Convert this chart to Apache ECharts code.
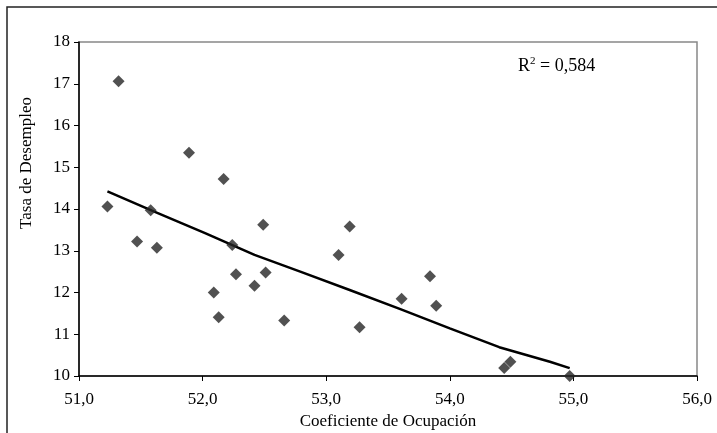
<!DOCTYPE html>
<html>
<head>
<meta charset="utf-8">
<script src="https://cdn.jsdelivr.net/npm/echarts@6/dist/echarts.min.js"></script>
<style>
  html, body { margin: 0; padding: 0; background: #fff; }
  #chart { width: 717px; height: 433px; }
</style>
</head>
<body>
<div id="chart"></div>
<script>
// coeficiente de ocupación (x) / tasa de desempleo (y)
var ocupacion = [51.32, 51.89, 52.17, 51.23, 51.58, 52.49, 53.19, 51.47, 51.63, 52.24,
  52.27, 52.51, 53.10, 52.09, 52.42, 52.13, 52.66, 53.27, 53.61, 53.84, 53.89, 54.44, 54.49, 54.97]
var desempleo = [17.06, 15.35, 14.72, 14.06, 13.97, 13.62, 13.58, 13.22, 13.07, 13.14,
  12.44, 12.48, 12.90, 12.00, 12.16, 11.41, 11.33, 11.17, 11.85, 12.39, 11.68, 10.19, 10.34, 10.00]

// linea de tendencia
var tendX = [51.23, 51.59, 52.02, 52.42, 52.79, 53.19, 53.60, 54.00, 54.40, 54.81, 54.97]
var tendY = [14.42, 13.96, 13.42, 12.90, 12.50, 12.06, 11.60, 11.14, 10.69, 10.34, 10.19]

var xTicks = ['51,0', '52,0', '53,0', '54,0', '55,0', '56,0']

var puntos = ocupacion.map(function (x, i) { return [x, desempleo[i]] })
var tendencia = tendX.map(function (x, i) { return [x, tendY[i]] })

var font = 'Liberation Serif'
var chart = echarts.init(document.getElementById('chart'))
chart.setOption({
  animation: false,
  backgroundColor: '#fff',
  grid: {
    left: 79,
    top: 42,
    right: 20,
    bottom: 57,
    containLabel: false,
    outerBoundsMode: 'none',
    show: true,
    borderColor: '#888',
    borderWidth: 1.5
  },
  xAxis: {
    type: 'value',
    min: 51,
    max: 56,
    interval: 1,
    name: 'Coeficiente de Ocupación',
    nameLocation: 'middle',
    nameGap: 35,
    nameTextStyle: { fontFamily: font, fontSize: 17, color: '#000' },
    axisLine: { show: true, lineStyle: { color: '#000', width: 1.5 } },
    axisTick: { show: true, length: 5, lineStyle: { color: '#000' } },
    axisLabel: {
      fontFamily: font, fontSize: 17, color: '#000', margin: 15,
      formatter: function (v) { return xTicks[Math.round(v - 51)] }
    },
    splitLine: { show: false }
  },
  yAxis: {
    type: 'value',
    min: 10,
    max: 18,
    interval: 1,
    axisLine: { show: true, lineStyle: { color: '#000', width: 1.5 } },
    axisTick: { show: true, length: 5, lineStyle: { color: '#000' } },
    axisLabel: { fontFamily: font, fontSize: 17, color: '#000', margin: 9 },
    splitLine: { show: false }
  },
  graphic: [
    {
      type: 'rect',
      shape: { x: 7, y: 7, width: 730, height: 450 },
      style: { fill: 'none', stroke: '#222', lineWidth: 1.5 },
      silent: true
    },
    {
      type: 'text',
      x: 27,
      y: 163,
      rotation: Math.PI / 2,
      style: {
        text: 'Tasa de Desempleo',
        fontFamily: font, fontSize: 17, fill: '#000',
        align: 'center', verticalAlign: 'middle'
      }
    },
    {
      type: 'text',
      x: 518,
      y: 66,
      style: {
        text: '{b|R}{s|2}{b| = 0,584}',
        verticalAlign: 'middle',
        rich: {
          b: { fontFamily: font, fontSize: 18, fill: '#000', color: '#000' },
          s: { fontFamily: font, fontSize: 11, fill: '#000', color: '#000', verticalAlign: 'top', padding: [0, 0, 9, 0] }
        }
      }
    }
  ],
  series: [
    {
      type: 'line',
      data: tendencia,
      showSymbol: false,
      symbol: 'none',
      smooth: false,
      lineStyle: { color: '#000', width: 2.5 },
      z: 2
    },
    {
      type: 'scatter',
      data: puntos,
      symbol: 'diamond',
      symbolSize: 12,
      itemStyle: { color: '#262626' },
      z: 3
    }
  ]
})
</script>
</body>
</html>
